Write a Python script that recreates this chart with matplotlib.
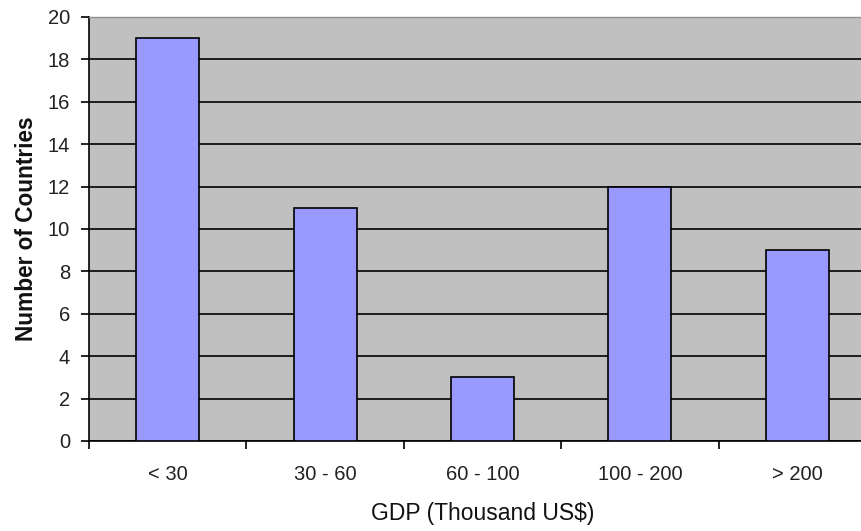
import matplotlib
matplotlib.use("Agg")
import matplotlib.pyplot as plt
import numpy as np

# GDP bands and the number of countries in each
categories = ["< 30", "30 - 60", "60 - 100", "100 - 200", "> 200"]
counts = [19, 11, 3, 12, 9]
y_ticks = [0, 2, 4, 6, 8, 10, 12, 14, 16, 18, 20]

plt.rcParams["font.family"] = ["Liberation Sans", "DejaVu Sans"]

fig = plt.figure(figsize=(8.62, 5.31), dpi=100)
ax = fig.add_axes([89 / 862, 90 / 531, 787 / 862, 424 / 531])
ax.set_facecolor("#C0C0C0")

x = np.arange(len(categories))
ax.bar(x, counts, width=0.4, color="#9999FF", edgecolor="black", linewidth=1.2, zorder=3)

ax.set_xlim(-0.5, len(categories) - 0.5)
ax.set_ylim(0, 20)
ax.set_yticks(y_ticks)
ax.set_yticklabels([str(t) for t in y_ticks])
ax.yaxis.grid(True, color="black", linewidth=1.2, zorder=1)
ax.set_axisbelow(True)

# categories labelled at centres, tick marks at band boundaries
ax.set_xticks(x)
ax.set_xticklabels(categories)
ax.tick_params(axis="x", length=0, pad=17.5, labelsize=14.5, labelcolor="#222222")
ax.set_xticks(np.arange(-0.5, len(categories), 1.0), minor=True)
ax.tick_params(axis="x", which="minor", length=6, width=1.2, direction="out")
ax.tick_params(axis="y", length=6, width=1.2, direction="out", labelsize=14.5, labelcolor="#222222", pad=7.5)

for side in ["top", "right"]:
    ax.spines[side].set_color("#909090")
    ax.spines[side].set_linewidth(1.0)
for side in ["left", "bottom"]:
    ax.spines[side].set_color("black")
    ax.spines[side].set_linewidth(1.2)

ax.set_xlabel("GDP (Thousand US$)", fontsize=16.5, labelpad=13, color="#111111")
ax.set_ylabel("Number of Countries", fontsize=16.3, fontweight="bold", labelpad=7, color="#111111")

fig.savefig("out.png", dpi=100)
